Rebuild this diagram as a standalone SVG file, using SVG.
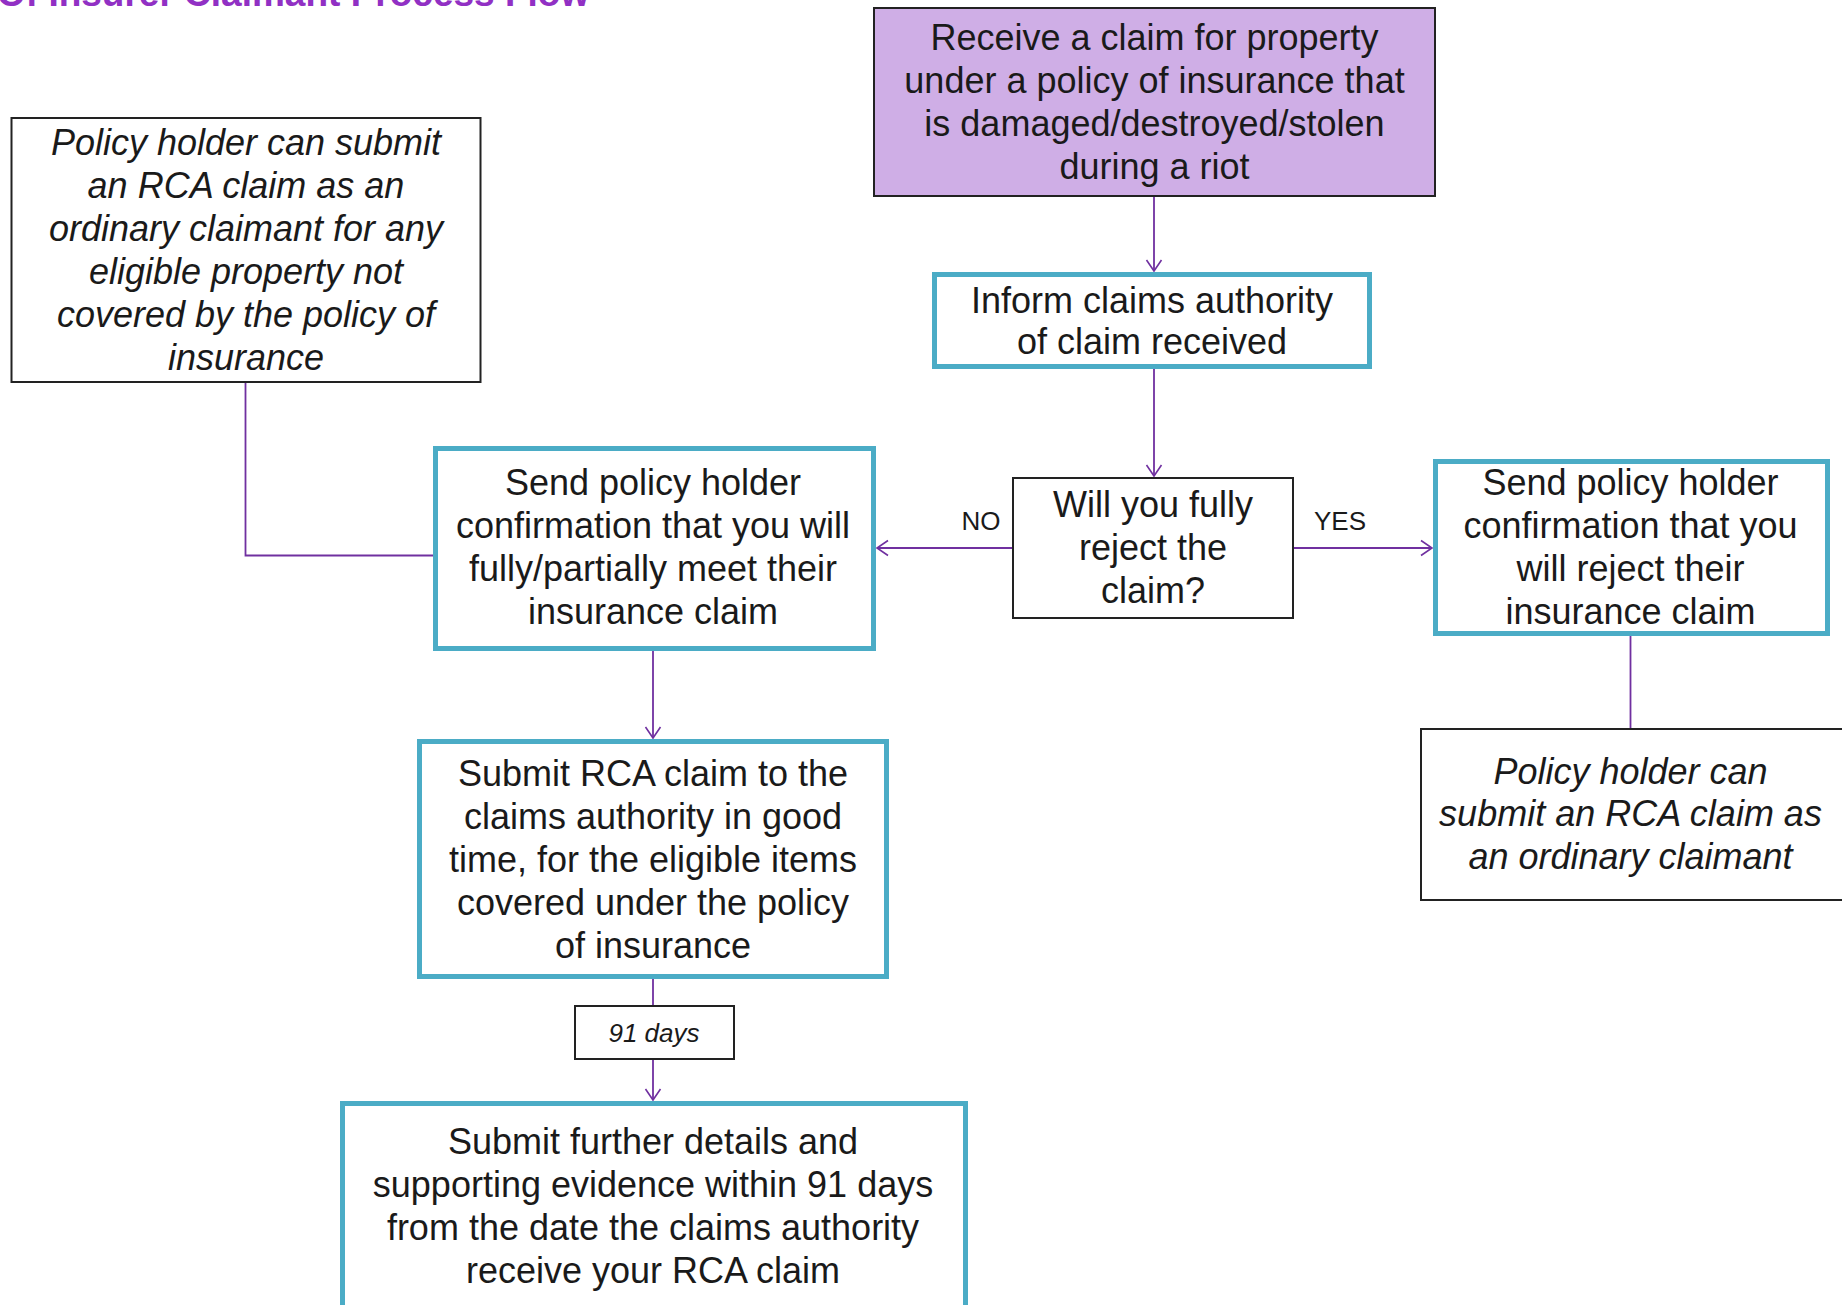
<svg xmlns="http://www.w3.org/2000/svg" width="1842" height="1305" viewBox="0 0 1842 1305">
<defs>
<marker id="arr" markerUnits="userSpaceOnUse" markerWidth="18" markerHeight="20" refX="12" refY="9" orient="auto">
<path d="M1,1.5 L12,9 L1,16.5" fill="none" stroke="#7030A0" stroke-width="1.6"/>
</marker>
<style>
.t{font-family:"Liberation Sans",Arial,sans-serif;font-size:36px;fill:#1a1a1a;text-anchor:middle}
.i{font-style:italic}
.teal{fill:#fff;stroke:#4BACC6;stroke-width:5}
.blk{fill:#fff;stroke:#222;stroke-width:2}
.c{fill:none;stroke:#7030A0;stroke-width:1.8}
.lab{font-family:"Liberation Sans",Arial,sans-serif;font-size:26px;fill:#1a1a1a;text-anchor:middle}
.title{font-family:"Liberation Sans",Arial,sans-serif;font-size:37px;font-weight:bold;fill:#9130C4}
</style>
</defs>
<rect width="1842" height="1305" fill="#fff"/>
<text class="title" x="-3" y="6">Of Insurer Claimant Process Flow</text>

<g id="connectors">
<path class="c" d="M1154,196 V271" marker-end="url(#arr)"/>
<path class="c" d="M1154,369 V476" marker-end="url(#arr)"/>
<path class="c" d="M1013,548 H877" marker-end="url(#arr)"/>
<path class="c" d="M1293,548 H1432" marker-end="url(#arr)"/>
<path class="c" d="M245.5,383 V555.5 H433"/>
<path class="c" d="M1630.5,636 V729"/>
<path class="c" d="M653,651 V738" marker-end="url(#arr)"/>
<path class="c" d="M653,979 V1006"/>
<path class="c" d="M653,1059 V1100" marker-end="url(#arr)"/>
<text class="lab" x="981" y="530">NO</text>
<text class="lab" x="1340" y="530">YES</text>
</g>

<g id="n-receive">
<rect x="874" y="8" width="561" height="188" fill="#CFAEE6" stroke="#222" stroke-width="2"/>
<text class="t" x="1154.5" y="50">Receive a claim for property</text>
<text class="t" x="1154.5" y="93">under a policy of insurance that</text>
<text class="t" x="1154.5" y="136">is damaged/destroyed/stolen</text>
<text class="t" x="1154.5" y="179">during a riot</text>
</g>

<g id="n-inform">
<rect class="teal" x="934.5" y="274.5" width="435" height="92"/>
<text class="t" x="1152" y="313">Inform claims authority</text>
<text class="t" x="1152" y="354">of claim received</text>
</g>

<g id="n-decision">
<rect class="blk" x="1013" y="478" width="280" height="140"/>
<text class="t" x="1153" y="517">Will you fully</text>
<text class="t" x="1153" y="560">reject the</text>
<text class="t" x="1153" y="603">claim?</text>
</g>

<g id="n-meet">
<rect class="teal" x="435.5" y="448.5" width="438" height="200"/>
<text class="t" x="653" y="495">Send policy holder</text>
<text class="t" x="653" y="538">confirmation that you will</text>
<text class="t" x="653" y="581">fully/partially meet their</text>
<text class="t" x="653" y="624">insurance claim</text>
</g>

<g id="n-reject">
<rect class="teal" x="1435.5" y="461.5" width="392" height="172"/>
<text class="t" x="1630.5" y="495">Send policy holder</text>
<text class="t" x="1630.5" y="538">confirmation that you</text>
<text class="t" x="1630.5" y="581">will reject their</text>
<text class="t" x="1630.5" y="624">insurance claim</text>
</g>

<g id="n-ordinary-left">
<rect class="blk" x="11.5" y="118" width="469" height="264"/>
<text class="t i" x="246" y="155">Policy holder can submit</text>
<text class="t i" x="246" y="198">an RCA claim as an</text>
<text class="t i" x="246" y="241">ordinary claimant for any</text>
<text class="t i" x="246" y="284">eligible property not</text>
<text class="t i" x="246" y="327">covered by the policy of</text>
<text class="t i" x="246" y="370">insurance</text>
</g>

<g id="n-ordinary-right">
<rect class="blk" x="1421" y="729" width="430" height="171"/>
<text class="t i" x="1630.5" y="784">Policy holder can</text>
<text class="t i" x="1630.5" y="826">submit an RCA claim as</text>
<text class="t i" x="1630.5" y="869">an ordinary claimant</text>
</g>

<g id="n-submit">
<rect class="teal" x="419.5" y="741.5" width="467" height="235"/>
<text class="t" x="653" y="786">Submit RCA claim to the</text>
<text class="t" x="653" y="829">claims authority in good</text>
<text class="t" x="653" y="872">time, for the eligible items</text>
<text class="t" x="653" y="915">covered under the policy</text>
<text class="t" x="653" y="958">of insurance</text>
</g>

<g id="n-91days">
<rect class="blk" x="575" y="1006" width="159" height="53"/>
<text class="lab i" x="654" y="1042">91 days</text>
</g>

<g id="n-further">
<rect class="teal" x="342.5" y="1103.5" width="623" height="210"/>
<text class="t" x="653" y="1154">Submit further details and</text>
<text class="t" x="653" y="1197">supporting evidence within 91 days</text>
<text class="t" x="653" y="1240">from the date the claims authority</text>
<text class="t" x="653" y="1283">receive your RCA claim</text>
</g>
</svg>
